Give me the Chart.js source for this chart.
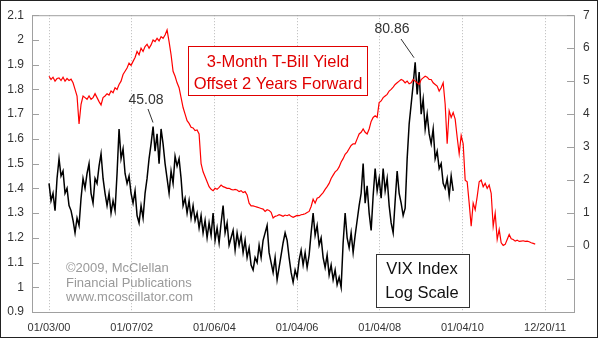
<!DOCTYPE html>
<html><head><meta charset="utf-8">
<script src="https://cdn.jsdelivr.net/npm/chart.js@4"></script>
<style>html,body{margin:0;padding:0;background:#fff}canvas{display:block}</style>
</head><body>
<canvas id="c" width="600" height="339"></canvas>
<script>
// trading days between consecutive samples
const sampleStep = 12.1;

// log10(VIX), sampled every sampleStep trading days from 01/03/00
const vixLog = [
1.42,1.35,1.38,1.31,1.44,1.52,1.45,1.47,1.38,1.40,
1.33,1.31,1.27,1.22,1.28,1.25,1.36,1.44,1.40,1.46,
1.50,1.38,1.34,1.44,1.42,1.49,1.54,1.44,1.38,1.33,
1.38,1.30,1.35,1.31,1.46,1.64,1.52,1.56,1.46,1.42,
1.45,1.38,1.34,1.39,1.29,1.26,1.33,1.28,1.38,1.44,
1.52,1.58,1.65,1.55,1.62,1.50,1.64,1.58,1.50,1.44,
1.38,1.47,1.42,1.53,1.49,1.52,1.44,1.33,1.36,1.30,
1.35,1.28,1.33,1.27,1.30,1.24,1.29,1.22,1.27,1.20,
1.26,1.21,1.30,1.19,1.24,1.18,1.26,1.33,1.22,1.26,
1.17,1.20,1.23,1.15,1.22,1.17,1.21,1.14,1.19,1.12,
1.16,1.09,1.07,1.12,1.10,1.17,1.12,1.19,1.22,1.25,
1.14,1.10,1.06,1.12,1.03,1.08,1.13,1.18,1.22,1.19,
1.12,1.06,1.02,1.07,1.04,1.11,1.15,1.09,1.14,1.08,
1.13,1.22,1.30,1.21,1.25,1.17,1.20,1.12,1.08,1.13,
1.05,1.09,1.03,1.07,1.01,1.04,1.00,1.18,1.30,1.20,
1.16,1.22,1.14,1.21,1.27,1.33,1.38,1.50,1.34,1.41,
1.30,1.23,1.37,1.48,1.39,1.44,1.36,1.48,1.39,1.44,
1.33,1.26,1.22,1.35,1.47,1.38,1.34,1.29,1.32,1.52,
1.66,1.74,1.82,1.91,1.78,1.87,1.70,1.76,1.64,1.70,
1.62,1.58,1.64,1.52,1.55,1.48,1.50,1.42,1.40,1.44,
1.37,1.45,1.39
];

// 3-month T-bill yield (%), offset 2 years forward, same sampling
const tbillYield = [
5.15,5.05,5.12,5.00,5.08,5.10,5.02,5.12,5.00,5.08,
5.02,5.06,4.95,4.75,4.55,3.70,4.30,4.55,4.50,4.45,
4.55,4.45,4.50,4.62,4.50,4.38,4.28,4.50,4.55,4.62,
4.58,4.70,4.65,4.80,4.75,4.90,5.00,5.20,5.30,5.40,
5.55,5.48,5.60,5.72,5.90,5.80,6.00,5.90,6.05,6.12,
6.00,6.10,6.25,6.20,6.30,6.22,6.35,6.30,6.40,6.55,
6.20,5.80,5.30,5.15,4.95,4.80,4.50,4.20,4.00,3.80,
3.72,3.60,3.58,3.50,3.52,3.40,2.50,2.25,2.10,1.95,
1.80,1.72,1.68,1.75,1.72,1.78,1.85,1.80,1.78,1.75,
1.75,1.72,1.70,1.72,1.70,1.65,1.68,1.62,1.65,1.55,
1.30,1.22,1.22,1.20,1.18,1.16,1.14,1.12,1.05,1.10,
1.08,1.02,0.85,0.90,0.92,0.95,0.93,0.90,0.94,0.92,
0.95,0.90,0.87,0.90,0.93,0.92,0.95,0.96,0.98,1.02,
1.05,1.20,1.42,1.30,1.45,1.48,1.55,1.62,1.72,1.80,
1.90,2.05,2.15,2.25,2.30,2.40,2.55,2.65,2.78,2.85,
2.95,3.05,3.10,3.10,3.25,3.40,3.45,3.55,3.45,3.40,
3.55,3.78,3.90,3.95,3.90,4.35,4.40,4.50,4.55,4.60,
4.70,4.75,4.82,4.90,4.95,5.00,5.05,5.02,4.95,5.00,
4.92,4.95,5.05,5.00,4.95,4.90,5.05,5.10,5.15,5.12,
5.05,5.05,4.95,4.90,4.85,4.70,4.80,4.95,4.30,3.10,
4.10,3.90,4.05,3.85,3.30,2.80,3.35,3.10,2.00,1.95,
1.30,0.60,1.30,1.10,1.50,1.95,2.00,1.80,1.90,1.75,
1.85,1.60,0.60,1.00,0.20,0.50,0.10,0.02,0.05,0.20,
0.35,0.22,0.20,0.15,0.18,0.14,0.15,0.16,0.14,0.15,
0.13,0.10,0.08,0.06
];

const xTickValues = [0, 500, 1000, 1500, 2000, 2500, 3000];
const xTickLabels = ['01/03/00','01/07/02','01/06/04','01/04/06','01/04/08','01/04/10','12/20/11'];
const leftTicks = [0.9,1.0,1.1,1.2,1.3,1.4,1.5,1.6,1.7,1.8,1.9,2.0,2.1];
const rightTicks = [-2,-1,0,1,2,3,4,5,6,7];
const vixPeaks = [{label:'45.08', value:1.654}, {label:'80.86', value:1.908}];

const FONT = '"Liberation Sans", Arial, sans-serif';

const vixData = vixLog.map((v, i) => ({x: i * sampleStep, y: v}));
const tbData = tbillYield.map((v, i) => ({x: i * sampleStep, y: v}));

const decor = {
  id: 'decor',
  afterDatasetsDraw(chart) {
    const ctx = chart.ctx, a = chart.chartArea;
    const yL = chart.scales.y, yR = chart.scales.y1;
    ctx.save();
    // plot frame
    ctx.strokeStyle = '#a0a0a0'; ctx.lineWidth = 1;
    ctx.strokeRect(a.left + 0.5, a.top + 0.5, a.right - a.left - 1, a.bottom - a.top);
    // inner ticks
    ctx.beginPath();
    leftTicks.forEach(v => { const y = Math.round(yL.getPixelForValue(v)) + 0.5; ctx.moveTo(a.left, y); ctx.lineTo(a.left + 7, y); });
    rightTicks.forEach(v => { const y = Math.round(yR.getPixelForValue(v)) + 0.5; ctx.moveTo(a.right - 8, y); ctx.lineTo(a.right - 1, y); });
    ctx.stroke();
    // outer frame
    ctx.strokeStyle = '#222';
    ctx.strokeRect(0.5, 0.5, 597, 337);

    // red label box
    ctx.fillStyle = '#fff'; ctx.fillRect(188.5, 46.5, 179, 49);
    ctx.strokeStyle = '#e00000'; ctx.strokeRect(188.5, 46.5, 179, 49);
    ctx.fillStyle = '#e00000'; ctx.textAlign = 'center'; ctx.textBaseline = 'alphabetic';
    ctx.font = '16.5px ' + FONT;
    ctx.fillText('3-Month T-Bill Yield', 278, 67);
    ctx.fillText('Offset 2 Years Forward', 278, 89);

    // VIX label box
    ctx.fillStyle = '#fff'; ctx.fillRect(376.5, 254.5, 93, 53);
    ctx.strokeStyle = '#333'; ctx.strokeRect(376.5, 254.5, 93, 53);
    ctx.fillStyle = '#111';
    ctx.fillText('VIX Index', 422, 274);
    ctx.fillText('Log Scale', 422, 298);

    // peak annotations
    ctx.font = '14px ' + FONT; ctx.fillStyle = '#333'; ctx.strokeStyle = '#333';
    ctx.fillText(vixPeaks[0].label, 146, 104);
    ctx.fillText(vixPeaks[1].label, 392, 33);
    ctx.beginPath();
    ctx.moveTo(148, 109); ctx.lineTo(153, yL.getPixelForValue(vixPeaks[0].value) - 3);
    ctx.moveTo(401, 39); ctx.lineTo(414, yL.getPixelForValue(vixPeaks[1].value) - 5);
    ctx.stroke();

    // copyright
    ctx.font = '13px ' + FONT; ctx.fillStyle = '#9a9a9a'; ctx.textAlign = 'left';
    ctx.fillText('\u00A92009, McClellan', 66, 272);
    ctx.fillText('Financial Publications', 66, 286.5);
    ctx.fillText('www.mcoscillator.com', 66, 301);
    ctx.restore();
  }
};

new Chart(document.getElementById('c'), {
  type: 'line',
  data: {
    datasets: [
      {label: 'T-Bill', data: tbData, yAxisID: 'y1', borderColor: '#ff0000', borderWidth: 1.2, pointRadius: 0, tension: 0, fill: false},
      {label: 'VIX', data: vixData, yAxisID: 'y', borderColor: '#000000', borderWidth: 1.5, pointRadius: 0, tension: 0, fill: false}
    ]
  },
  options: {
    responsive: false, animation: false, devicePixelRatio: 1,
    layout: {padding: {top: 12, left: 0, right: 0, bottom: 0}},
    plugins: {legend: {display: false}, tooltip: {enabled: false}},
    scales: {
      x: {
        type: 'linear', min: -103, max: 3181,
        afterBuildTicks: s => { s.ticks = xTickValues.map(v => ({value: v})); },
        afterFit: s => { s.height = 27; },
        ticks: {callback: (v, i) => xTickLabels[i], font: {size: 11, family: FONT}, color: '#333', padding: 9, maxRotation: 0, autoSkip: false},
        grid: {color: '#b8b8b8', drawTicks: false, lineWidth: 1},
        border: {display: false, dash: [1, 2]}
      },
      y: {
        type: 'linear', position: 'left', min: 0.9, max: 2.1,
        afterBuildTicks: s => { s.ticks = leftTicks.map(v => ({value: v})); },
        afterFit: s => { s.width = 32; },
        ticks: {callback: v => String(Math.round(v * 10) / 10), font: {size: 12, family: FONT}, color: '#333', padding: 8},
        grid: {display: false, drawTicks: false},
        border: {display: false}
      },
      y1: {
        type: 'linear', position: 'right', min: -2, max: 7,
        afterBuildTicks: s => { s.ticks = rightTicks.map(v => ({value: v})); },
        afterFit: s => { s.width = 25; },
        ticks: {callback: v => (v >= 0 ? String(v) : ''), font: {size: 12, family: FONT}, color: '#333', padding: 8},
        grid: {display: false, drawTicks: false},
        border: {display: false}
      }
    }
  },
  plugins: [decor]
});
</script>
</body></html>
